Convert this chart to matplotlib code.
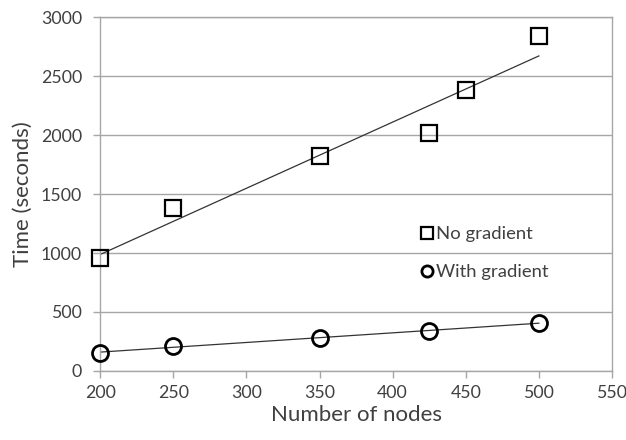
import matplotlib
matplotlib.use("Agg")
import matplotlib.pyplot as plt
import numpy as np

nodes_no = [200, 250, 350, 425, 450, 500]
time_no = [957, 1381, 1822, 2017, 2381, 2839]
nodes_with = [200, 250, 350, 425, 500]
time_with = [152, 212, 280, 339, 407]
x_ticks = [200, 250, 300, 350, 400, 450, 500, 550]
y_ticks = [0, 500, 1000, 1500, 2000, 2500, 3000]

plt.rcParams['font.family'] = ['Lato', 'DejaVu Sans']
fig = plt.figure(figsize=(6.26, 4.4), dpi=100)
ax = fig.add_axes([0.16, 0.157, 0.8176, 0.804])

gray = '#a6a6a6'
text_c = '#404040'
ax.set_xlim(200, 550)
ax.set_ylim(0, 3000)
ax.set_xticks(x_ticks)
ax.set_yticks(y_ticks)
ax.yaxis.grid(True, color=gray, lw=1)
ax.set_axisbelow(True)
for s in ax.spines.values():
    s.set_color(gray)
    s.set_linewidth(1)
ax.tick_params(colors=gray, labelcolor=text_c, labelsize=12.8, length=5, width=1)
ax.tick_params(axis='x', pad=5)
ax.tick_params(axis='y', pad=8)

# trendlines
for xs, ys in [(nodes_no, time_no), (nodes_with, time_with)]:
    k, b = np.polyfit(xs, ys, 1)
    xx = np.array([min(xs), max(xs)])
    ax.plot(xx, k * xx + b, color='#333333', lw=0.9, zorder=2)

ax.plot(nodes_no, time_no, ls='none', marker='s', ms=11.5, mfc='none', mec='black', mew=1.6,
        label='No gradient', zorder=3, clip_on=False)
ax.plot(nodes_with, time_with, ls='none', marker='o', ms=11.5, mfc='none', mec='black', mew=2.0,
        label='With gradient', zorder=3, clip_on=False)

leg = ax.legend(loc='center left', bbox_to_anchor=(0.595, 0.333), frameon=False, fontsize=13.3,
                handlelength=0.6, handletextpad=0.2, labelspacing=1.2, markerscale=0.7,
                labelcolor=text_c)

ax.set_xlabel('Number of nodes', fontsize=16, color=text_c, labelpad=3)
ax.set_ylabel('Time (seconds)', fontsize=16, color=text_c, labelpad=6)

fig.savefig('out.png', dpi=100)
